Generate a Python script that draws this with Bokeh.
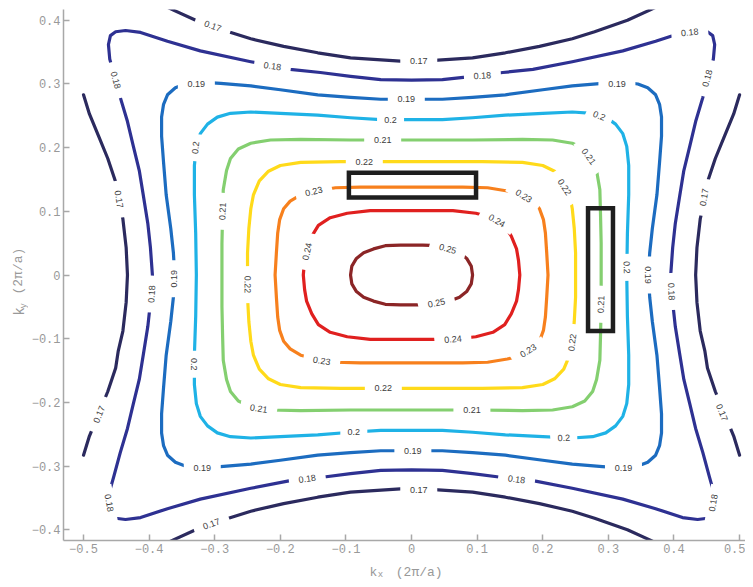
import numpy as np
from bokeh.plotting import figure
from bokeh.layouts import row, column
from bokeh.models import Range1d, FixedTicker, CustomJSTickFormatter
from bokeh.core.properties import value
from bokeh.embed import file_html
from bokeh.resources import INLINE

# ---------------- data ----------------
levels = ["0.17", "0.18", "0.19", "0.2", "0.21", "0.22", "0.23", "0.24", "0.25"]
colors = ["#2b2a5e", "#2e3192", "#1c6cc0", "#1fb2e6", "#84cf70",
          "#ffda1a", "#f7801d", "#e0201f", "#8b2526"]

x_ticks = [-0.5, -0.4, -0.3, -0.2, -0.1, 0.0, 0.1, 0.2, 0.3, 0.4, 0.5]
y_ticks = [-0.4, -0.3, -0.2, -0.1, 0.0, 0.1, 0.2, 0.3, 0.4]

# closed contours: upper-left quadrant traced from (0, top) to (left, 0)
q025_x = [0, -0.017, -0.040, -0.058, -0.073, -0.084, -0.091, -0.093]
q025_y = [0.047, 0.047, 0.046, 0.041, 0.035, 0.026, 0.014, 0]

q024_x = [0, -0.063, -0.098, -0.124, -0.142, -0.152, -0.160, -0.163, -0.165]
q024_y = [0.101, 0.101, 0.097, 0.090, 0.078, 0.061, 0.041, 0.023, 0]

q023_x = [0, -0.078, -0.116, -0.146, -0.169, -0.185, -0.195, -0.201, -0.204, -0.206, -0.208]
q023_y = [0.138, 0.138, 0.137, 0.132, 0.126, 0.116, 0.104, 0.087, 0.066, 0.035, 0]

q022_x = [0, -0.108, -0.169, -0.200, -0.218, -0.232, -0.241, -0.245, -0.248, -0.250, -0.250]
q022_y = [0.178, 0.178, 0.177, 0.172, 0.163, 0.148, 0.126, 0.104, 0.073, 0.035, 0]

q021_x = [0, -0.093, -0.169, -0.215, -0.245, -0.264, -0.276, -0.282, -0.287, -0.288, -0.289, -0.289]
q021_y = [0.212, 0.212, 0.213, 0.212, 0.207, 0.198, 0.183, 0.164, 0.134, 0.096, 0.050, 0]

q020_x = [0, -0.047, -0.093, -0.143, -0.200, -0.245, -0.276, -0.296, -0.311, -0.322,
          -0.328, -0.331, -0.331, -0.329, -0.328]
q020_y = [0.244, 0.244, 0.247, 0.251, 0.254, 0.256, 0.254, 0.248, 0.237, 0.222,
          0.202, 0.172, 0.126, 0.065, 0]

q019_x = [0, -0.047, -0.093, -0.143, -0.200, -0.245, -0.291, -0.322, -0.345, -0.360,
          -0.372, -0.378, -0.381, -0.381, -0.378, -0.374, -0.367, -0.363, -0.361]
q019_y = [0.276, 0.276, 0.279, 0.283, 0.291, 0.297, 0.301, 0.303, 0.300, 0.294,
          0.283, 0.268, 0.248, 0.218, 0.177, 0.126, 0.073, 0.035, 0]

q018_x = [0, -0.047, -0.093, -0.139, -0.185, -0.245, -0.322, -0.372, -0.413, -0.436,
          -0.451, -0.459, -0.462, -0.460, -0.454, -0.444, -0.433, -0.424, -0.415,
          -0.409, -0.402, -0.398, -0.395]
q018_y = [0.306, 0.307, 0.312, 0.318, 0.323, 0.335, 0.352, 0.367, 0.381, 0.384,
          0.382, 0.376, 0.362, 0.339, 0.317, 0.279, 0.241, 0.202, 0.164,
          0.126, 0.081, 0.043, 0]

# open 0.17 contours: top branch (from x=0 leftwards) and left branch (from y=0 upwards)
c017_top_x = [0, -0.017, -0.093, -0.143, -0.195, -0.245, -0.279, -0.329, -0.363, -0.383]
c017_top_y = [0.336, 0.336, 0.341, 0.349, 0.359, 0.371, 0.382, 0.400, 0.416, 0.426]
c017_side_x = [-0.433, -0.435, -0.440, -0.447, -0.451, -0.463, -0.477, -0.491, -0.500]
c017_side_y = [0, 0.043, 0.088, 0.119, 0.146, 0.183, 0.218, 0.253, 0.283]

# contour labels
lab_text = ["0.17", "0.17", "0.17", "0.17", "0.17", "0.17", "0.17", "0.17",
            "0.18", "0.18", "0.18", "0.18", "0.18", "0.18", "0.18", "0.18", "0.18", "0.18", "0.18",
            "0.19", "0.19", "0.19", "0.19", "0.19", "0.19", "0.19", "0.19",
            "0.2", "0.2", "0.2", "0.2", "0.2", "0.2", "0.2",
            "0.21", "0.21", "0.21", "0.21", "0.21", "0.21",
            "0.22", "0.22", "0.22", "0.22", "0.22",
            "0.23", "0.23", "0.23", "0.23",
            "0.24", "0.24", "0.24",
            "0.25", "0.25"]
lab_x = [-0.303, 0.011, -0.446, 0.446, -0.476, -0.305, 0.011, 0.473,
         -0.451, -0.212, 0.108, 0.424, 0.451, -0.396, 0.396, -0.461, -0.159, 0.160, 0.460,
         -0.328, -0.008, 0.313, -0.362, 0.361, -0.319, 0.002, 0.323,
         -0.329, -0.032, 0.286, -0.331, 0.328, -0.088, 0.232,
         -0.288, -0.044, 0.270, 0.289, -0.233, 0.092,
         -0.072, 0.233, -0.250, 0.245, -0.043,
         -0.149, 0.171, 0.178, -0.137,
         -0.159, 0.130, 0.063,
         0.055, 0.038]
lab_y = [0.391, 0.336, 0.119, 0.122, -0.219, -0.391, -0.337, -0.216,
         0.306, 0.328, 0.313, 0.381, 0.309, -0.030, -0.026, -0.358, -0.320, -0.321, -0.358,
         0.300, 0.276, 0.300, -0.006, 0.000, -0.303, -0.276, -0.303,
         0.200, 0.244, 0.250, -0.140, 0.012, -0.247, -0.256,
         0.100, 0.212, 0.186, -0.046, -0.210, -0.212,
         0.177, 0.138, -0.015, -0.106, -0.178,
         0.131, 0.124, -0.119, -0.135,
         0.037, 0.085, -0.101,
         0.041, -0.044]
lab_ang = [-20, 0, -81, 81, 68, 20, 0, -68,
           -75, -8, 3, 5, 75, 87, -87, -80, 8, -8, 80,
           0, 0, 0, 90, -90, 0, 0, 0,
           84, 0, -22, -90, -88, 0, 3,
           87, 0, -54, 88, -9, 0,
           0, -57, -89, 83, 0,
           14, -32, 32, -9,
           78, -30, 5,
           -15, 12]

# highlighted boxes
box_left = [-0.0955, 0.269]
box_right = [0.0983, 0.307]
box_bottom = [0.1218, -0.088]
box_top = [0.1606, 0.105]

# axis titles (letter, subscript, unit)
x_title = ["k", "x", "(2\u03c0/a)"]
y_title = ["k", "y", "(2\u03c0/a)"]


# ---------------- build curves ----------------
def closed(qx, qy):
    qx = np.asarray(qx, float)
    qy = np.asarray(qy, float)
    xs = np.concatenate([qx, qx[::-1][1:], -qx[1:], -qx[::-1][1:]])
    ys = np.concatenate([qy, -qy[::-1][1:], -qy[1:], qy[::-1][1:]])
    return list(xs), list(ys)


xs_all, ys_all, col_all = [], [], []

tx = np.asarray(c017_top_x, float)
ty = np.asarray(c017_top_y, float)
top_x = np.concatenate([tx[::-1], -tx[1:]])
top_y = np.concatenate([ty[::-1], ty[1:]])
sx = np.asarray(c017_side_x, float)
sy = np.asarray(c017_side_y, float)
side_x = np.concatenate([sx[::-1], sx[1:]])
side_y = np.concatenate([sy[::-1], -sy[1:]])
for cx, cy in [(top_x, top_y), (top_x, -top_y), (side_x, side_y), (-side_x, side_y)]:
    xs_all.append(list(cx))
    ys_all.append(list(cy))
    col_all.append(colors[0])

quads = [(q018_x, q018_y), (q019_x, q019_y), (q020_x, q020_y), (q021_x, q021_y),
         (q022_x, q022_y), (q023_x, q023_y), (q024_x, q024_y), (q025_x, q025_y)]
for i, (qx, qy) in enumerate(quads):
    cx, cy = closed(qx, qy)
    xs_all.append(cx)
    ys_all.append(cy)
    col_all.append(colors[i + 1])

# ---------------- main figure ----------------
TOTAL_W, TOTAL_H = 745, 579
YL_W = 28
XL_H = 20

p = figure(width=TOTAL_W - YL_W, height=TOTAL_H - XL_H,
           x_range=Range1d(-0.5305, 0.509), y_range=Range1d(-0.417, 0.417),
           output_backend="svg", toolbar_location=None,
           min_border_left=35, min_border_right=0, min_border_top=9, min_border_bottom=19)
p.outline_line_color = None
p.xgrid.visible = False
p.ygrid.visible = False
p.background_fill_color = "white"
p.border_fill_color = "white"

p.multi_line(xs_all, ys_all, line_color=col_all, line_width=3.2,
             line_cap="round", line_join="round")

rad = [a * np.pi / 180 for a in lab_ang]
widths = [10 * len(t) - 3 for t in lab_text]
p.rect(lab_x, lab_y, width=widths, height=11, width_units="screen", height_units="screen",
       angle=rad, fill_color="white", line_color=None)
p.text(lab_x, lab_y, text=lab_text, angle=rad,
       text_font=value("Liberation Sans"), text_font_size=value("9px"),
       text_color="#3c3c3c", text_align="center", text_baseline="middle")

p.quad(left=box_left, right=box_right, bottom=box_bottom, top=box_top,
       fill_color=None, line_color="#1e1e1e", line_width=4.5, line_join="miter")

fmt = CustomJSTickFormatter(code="""
if (Math.abs(tick) < 1e-9) { return "0"; }
return (tick < 0 ? "\u2212" : "") + Math.abs(tick).toFixed(1);
""")
for ax, ticks in [(p.xaxis[0], x_ticks), (p.yaxis[0], y_ticks)]:
    ax.ticker = FixedTicker(ticks=ticks)
    ax.formatter = fmt
    ax.axis_line_color = "#a8a8a8"
    ax.axis_line_width = 1.5
    ax.major_tick_line_color = "#a8a8a8"
    ax.major_tick_line_width = 1.5
    ax.major_tick_in = 6
    ax.major_tick_out = 0
    ax.minor_tick_line_color = None
    ax.major_label_text_font = "Liberation Mono"
    ax.major_label_text_font_size = "12px"
    ax.major_label_text_color = "#999999"
p.xaxis.major_label_standoff = 3
p.yaxis.major_label_standoff = 3

# ---------------- axis title strips ----------------
tfont = value("Liberation Mono")
tcol = "#999999"

xl = figure(width=TOTAL_W - YL_W, height=XL_H, x_range=p.x_range, y_range=Range1d(0, XL_H),
            x_axis_type=None, y_axis_type=None, output_backend="svg", toolbar_location=None,
            min_border_left=35, min_border_right=0, min_border_top=0, min_border_bottom=0)
xl.outline_line_color = None
xl.grid.visible = False
xl.text([-0.064], [7.5], text=[x_title[0]], text_font=tfont, text_font_size=value("13px"),
        text_color=tcol, text_align="left", text_baseline="alphabetic")
xl.text([-0.0515], [5], text=[x_title[1]], text_font=tfont, text_font_size=value("9px"),
        text_color=tcol, text_align="left", text_baseline="alphabetic")
xl.text([-0.024], [7.5], text=[x_title[2]], text_font=tfont, text_font_size=value("13px"),
        text_color=tcol, text_align="left", text_baseline="alphabetic")

yl = figure(width=YL_W, height=TOTAL_H, x_range=Range1d(0, YL_W), y_range=Range1d(0, TOTAL_H),
            x_axis_type=None, y_axis_type=None, output_backend="svg", toolbar_location=None,
            min_border_left=0, min_border_right=0, min_border_top=0, min_border_bottom=0)
yl.outline_line_color = None
yl.grid.visible = False
yl.text([19], [TOTAL_H - 315], text=[y_title[0]], angle=np.pi / 2, text_font=tfont,
        text_font_size=value("14px"), text_color=tcol, text_align="left", text_baseline="alphabetic")
yl.text([23], [TOTAL_H - 308], text=[y_title[1]], angle=np.pi / 2, text_font=tfont,
        text_font_size=value("9px"), text_color=tcol, text_align="left", text_baseline="alphabetic")
yl.text([18], [TOTAL_H - 294], text=[y_title[2]], angle=np.pi / 2, text_font=tfont,
        text_font_size=value("13px"), text_color=tcol, text_align="left", text_baseline="alphabetic")

layout = row(yl, column(p, xl))
open("out.html", "w").write(file_html(layout, INLINE))
